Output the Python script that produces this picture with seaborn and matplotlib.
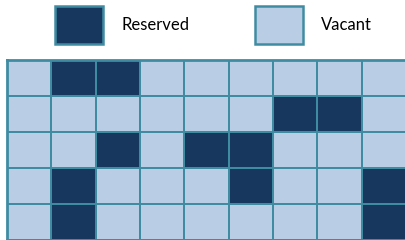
import matplotlib
matplotlib.use("Agg")
import matplotlib.pyplot as plt
from matplotlib.patches import Patch
import seaborn as sns
import numpy as np

# 1 = reserved seat, 0 = vacant seat (5 rows x 9 columns)
row0 = [0, 1, 1, 0, 0, 0, 0, 0, 0]
row1 = [0, 0, 0, 0, 0, 0, 1, 1, 0]
row2 = [0, 0, 1, 0, 1, 1, 0, 0, 0]
row3 = [0, 1, 0, 0, 0, 1, 0, 0, 1]
row4 = [0, 1, 0, 0, 0, 0, 0, 0, 1]
labels = ["Reserved", "Vacant"]

dark = "#17375e"
light = "#b9cde4"
edge = "#3f8ca2"

grid = np.array([row0, row1, row2, row3, row4])

fig = plt.figure(figsize=(4.06, 2.40), dpi=100)
ax = fig.add_axes([7 / 406, 0.0, 1 - 7 / 406, 180 / 240])
sns.heatmap(grid, ax=ax, cmap=[light, dark], cbar=False,
            linewidths=1.2, linecolor=edge, xticklabels=False, yticklabels=False)
for s in ax.spines.values():
    s.set_visible(True)
    s.set_color(edge)
    s.set_linewidth(2)

handles = [Patch(facecolor=dark, edgecolor=edge, linewidth=1.8),
           Patch(facecolor=light, edgecolor=edge, linewidth=1.8)]
fig.legend(handles, labels, loc="center left", bbox_to_anchor=(55 / 406, 1 - 25 / 240),
           ncol=2, frameon=False, prop={"family": "Lato", "size": 12},
           handlelength=2.9, handleheight=3.2, handletextpad=1.1,
           columnspacing=3.9, borderpad=0, borderaxespad=0)

fig.savefig("out.png", dpi=100)
